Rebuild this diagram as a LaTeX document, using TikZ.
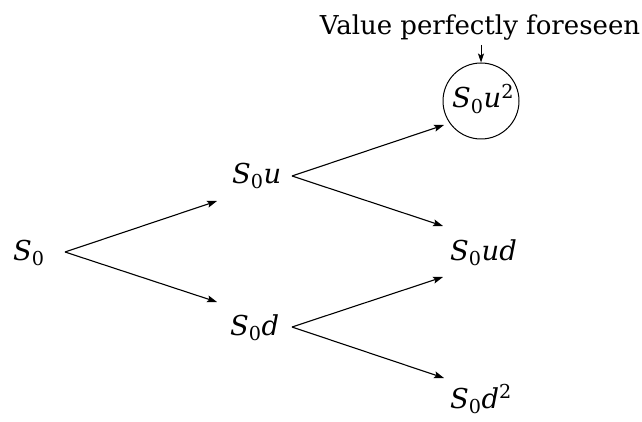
\documentclass[tikz,border=0pt]{standalone}
\usepackage{fontspec}
\setmainfont{DejaVu Serif}
\usetikzlibrary{arrows.meta,calc}
\newcommand\vS{\textit{S}\textsubscript{0}}
\begin{document}
\begin{tikzpicture}[x=1pt,y=-1pt,
  lab/.style={anchor=base west,inner sep=0pt,font=\fontsize{27.4}{32}\selectfont},
  edge/.style={line width=1.1pt,-{Stealth[length=10pt,width=7pt,inset=2pt]}}]
\useasboundingbox (0,0) rectangle (642,422);
\node[lab] (s0) at (13,260) {\vS};
\node[lab] (s0u) at (232,183) {\vS\textit{u}};
\node[lab] (s0d) at (230,335) {\vS\textit{d}};
\node[circle,draw,line width=1pt,minimum size=76pt,inner sep=0pt] (c) at (481,101) {};
\node[lab] (s0uu) at (452,108) {\vS\textit{u}\textsuperscript{2}};
\node[lab] (s0ud) at (450,260) {\vS\textit{ud}};
\node[lab] (s0dd) at (450,408) {\vS\textit{d}\textsuperscript{2}};
\node[lab,anchor=base,font=\fontsize{26}{30}\selectfont] (note) at (480,35) {Value perfectly foreseen};
\draw[edge] ($(s0.base west)+(52,-8)$) -- ($(s0u.base west)+(-15,18)$);
\draw[edge] ($(s0.base west)+(52,-8)$) -- ($(s0d.base west)+(-13,-33)$);
\draw[edge] ($(s0u.base west)+(60,-7)$) -- ($(c.center)+(-37,24)$);
\draw[edge] ($(s0u.base west)+(60,-7)$) -- ($(s0ud.base west)+(-7,-34)$);
\draw[edge] ($(s0d.base west)+(62,-8)$) -- ($(s0ud.base west)+(-7,17)$);
\draw[edge] ($(s0d.base west)+(62,-8)$) -- ($(s0dd.base west)+(-6,-30)$);
\draw[line width=1pt,-{Stealth[length=9pt,width=6pt,inset=2pt]}] ($(note.base)+(1,10)$) -- (c.north);
\end{tikzpicture}
\end{document}
